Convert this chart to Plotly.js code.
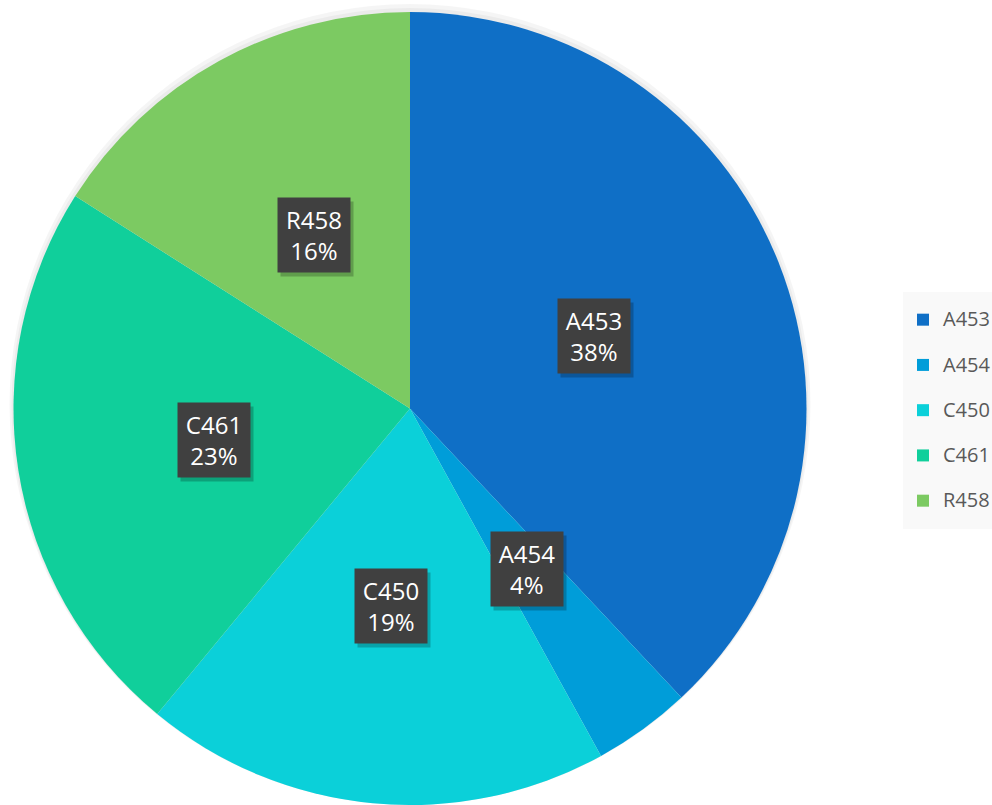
<!DOCTYPE html>
<html>
<head>
<meta charset="utf-8">
<script src="https://cdn.plot.ly/plotly-3.0.1.min.js"></script>
<style>html,body{margin:0;padding:0;background:#fff;overflow:hidden;}#chart{width:992px;height:805px;}</style>
</head>
<body>
<div id="chart"></div>
<script>
const labels = ["A453", "A454", "C450", "C461", "R458"];
const values = [38, 4, 19, 23, 16];
const colors = ["#0F6FC6", "#009DD9", "#0BD0D9", "#10CF9B", "#7CCA62"];

const W = 992, H = 805;
const margin = {l: 0, r: 0, t: 0, b: 0, autoexpand: false};
const pieLeft = 12, pieRight = 808, pieTop = 12; // pixel extent of the pie
const dom = {x: [pieLeft / W, pieRight / W], y: [0, 1 - pieTop / H]};

// label annotation positions computed from the data (mid-angle of each slice)
const total = values.reduce((a, b) => a + b, 0);
const cxPx = (pieLeft + pieRight) / 2;
const R = Math.min(pieRight - pieLeft, H - pieTop) / 2;
const cyPx = pieTop + (H - pieTop) / 2;
const boxW = 60, boxH = 62;
let cum = 0;
const annotations = [];
values.forEach((v, i) => {
  const mid = (cum + v / 2) / total * 2 * Math.PI;
  cum += v;
  const px = cxPx + 0.5 * R * Math.sin(mid);
  const py = cyPx - 0.5 * R * Math.cos(mid);
  const base = {
    x: px / W, y: 1 - py / H, xref: "paper", yref: "paper",
    xanchor: "center", yanchor: "middle", showarrow: false,
    width: boxW, height: boxH, borderpad: 6, align: "center", valign: "middle"
  };
  // soft drop shadow behind the label box
  annotations.push(Object.assign({}, base, {
    text: "&nbsp;", xshift: 3, yshift: -4,
    font: {family: "Open Sans, sans-serif", size: 24, color: "rgba(0,0,0,0)"},
    bgcolor: "rgba(0,0,0,0.22)"
  }));
  annotations.push(Object.assign({}, base, {
    text: labels[i] + "<br>" + Math.round(v / total * 100) + "%",
    font: {family: "Open Sans, sans-serif", size: 24, color: "#ffffff"},
    bgcolor: "#404040"
  }));
});

// faint halo behind the pie (shadow)
const shadowTraces = [8, 4].map(k => ({
  type: "pie",
  labels: ["shadow"],
  values: [1],
  sort: false,
  textinfo: "none",
  hoverinfo: "skip",
  showlegend: false,
  marker: {colors: ["rgba(0,0,0,0.04)"], line: {width: 0}},
  domain: {x: [(pieLeft - k) / W, (pieRight + k) / W], y: [0, 1 - (pieTop - k) / H]}
}));

// legend text drawn at 20px while the legend font size sets the row pitch
const legendLabels = labels.map(l => "<span style=\"font-size:20px;baseline-shift:6px\">" + l + "</span>");

const data = shadowTraces.concat([{
  type: "pie",
  labels: legendLabels,
  values: values,
  customdata: labels,
  sort: false,
  direction: "clockwise",
  rotation: 0,
  marker: {colors: colors, line: {width: 0}},
  textinfo: "none",
  hovertemplate: "%{customdata}<br>%{percent}<extra></extra>",
  domain: dom
}]);

const layout = {
  width: W, height: H,
  margin: margin,
  paper_bgcolor: "#ffffff",
  showlegend: true,
  legend: {
    x: 903 / W, xanchor: "left", y: 0.49, yanchor: "middle",
    bgcolor: "#f9f9f9",
    font: {family: "Open Sans, sans-serif", size: 32.5, color: "#595959"},
    itemwidth: 30
  },
  annotations: annotations
};

Plotly.newPlot("chart", data, layout, {displayModeBar: false});
</script>
</body>
</html>
